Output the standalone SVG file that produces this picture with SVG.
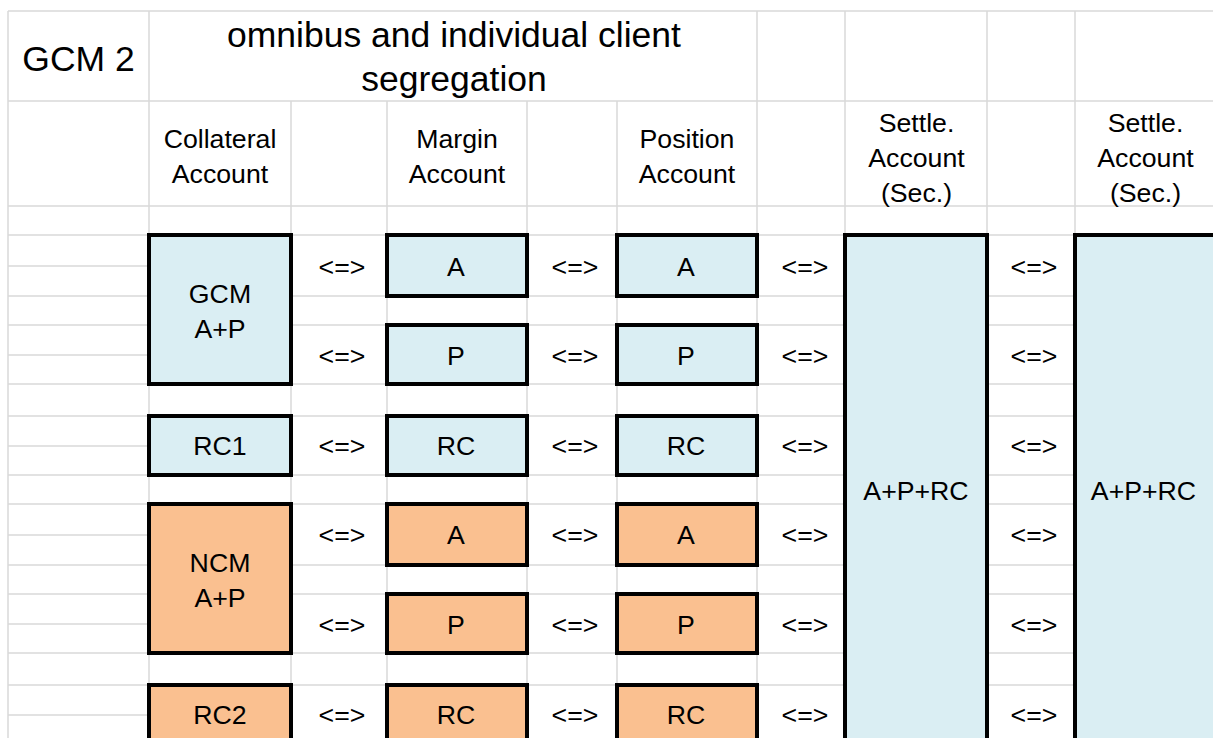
<svg xmlns="http://www.w3.org/2000/svg" width="1213" height="738" viewBox="0 0 1213 738">
<style>
.grid{fill:none;stroke:#d9d9d9;stroke-width:1.5}
.blue{fill:#daeef3;stroke:#000;stroke-width:4}
.orange{fill:#fac090;stroke:#000;stroke-width:4}
text{font-family:"Liberation Sans",Arial,sans-serif;fill:#000;text-anchor:middle}
.t{font-size:26.7px}
.h{font-size:35.5px}
</style>
<rect x="0" y="0" width="1213" height="738" fill="#fff"/>
<g id="grid">
<path class="grid" d="M8 11V738 M149 11V738 M291 101V738 M387 101V738 M527 101V738 M617 101V738 M757 11V738 M845 11V738 M987 11V738 M1075 11V738
M8 11H1213 M8 101H1213 M8 206H1213 M8 235H1213
M8 266H149 M8 355H149 M8 446H149 M8 535H149 M8 624H149 M8 715H149
M8 296H1213 M8 325H1213 M8 384H1213 M8 416H1213 M8 475H1213 M8 504H1213 M8 565H1213 M8 594H1213 M8 653H1213 M8 685H1213"/>
</g>
<g id="headers">
<text class="h" x="78.5" y="71">GCM 2</text>
<text class="h" x="454" y="47">omnibus and individual client</text>
<text class="h" x="454" y="91">segregation</text>
<text class="t" x="220" y="148">Collateral</text>
<text class="t" x="220" y="183">Account</text>
<text class="t" x="457" y="148">Margin</text>
<text class="t" x="457" y="183">Account</text>
<text class="t" x="687" y="148">Position</text>
<text class="t" x="687" y="183">Account</text>
<text class="t" x="916.5" y="132">Settle.</text>
<text class="t" x="916.5" y="167">Account</text>
<text class="t" x="916.5" y="202">(Sec.)</text>
<text class="t" x="1145.5" y="132">Settle.</text>
<text class="t" x="1145.5" y="167">Account</text>
<text class="t" x="1145.5" y="202">(Sec.)</text>
</g>
<g id="gcm-ap"><rect class="blue" x="149" y="235" width="142" height="149"/><text class="t" x="220" y="303">GCM</text><text class="t" x="220" y="338">A+P</text></g>
<g id="rc1"><rect class="blue" x="149" y="416" width="142" height="59"/><text class="t" x="220" y="455">RC1</text></g>
<g id="margin-a1"><rect class="blue" x="387" y="235" width="140" height="61"/><text class="t" x="456" y="276">A</text></g>
<g id="margin-p1"><rect class="blue" x="387" y="325" width="140" height="59"/><text class="t" x="456" y="365">P</text></g>
<g id="margin-rc1"><rect class="blue" x="387" y="416" width="140" height="59"/><text class="t" x="456" y="455">RC</text></g>
<g id="position-a1"><rect class="blue" x="617" y="235" width="140" height="61"/><text class="t" x="686" y="276">A</text></g>
<g id="position-p1"><rect class="blue" x="617" y="325" width="140" height="59"/><text class="t" x="686" y="365">P</text></g>
<g id="position-rc1"><rect class="blue" x="617" y="416" width="140" height="59"/><text class="t" x="686" y="455">RC</text></g>
<g id="settle1"><rect class="blue" x="845" y="235" width="142" height="530"/><text class="t" x="916" y="500">A+P+RC</text></g>
<g id="settle2"><rect class="blue" x="1075" y="235" width="160" height="530"/><text class="t" x="1143.5" y="500">A+P+RC</text></g>
<g id="ncm-ap"><rect class="orange" x="149" y="504" width="142" height="149"/><text class="t" x="220" y="572">NCM</text><text class="t" x="220" y="607">A+P</text></g>
<g id="rc2"><rect class="orange" x="149" y="685" width="142" height="80"/><text class="t" x="220" y="724">RC2</text></g>
<g id="margin-a2"><rect class="orange" x="387" y="504" width="140" height="61"/><text class="t" x="456" y="544">A</text></g>
<g id="margin-p2"><rect class="orange" x="387" y="594" width="140" height="59"/><text class="t" x="456" y="634">P</text></g>
<g id="margin-rc2"><rect class="orange" x="387" y="685" width="140" height="80"/><text class="t" x="456" y="724">RC</text></g>
<g id="position-a2"><rect class="orange" x="617" y="504" width="140" height="61"/><text class="t" x="686" y="544">A</text></g>
<g id="position-p2"><rect class="orange" x="617" y="594" width="140" height="59"/><text class="t" x="686" y="634">P</text></g>
<g id="position-rc2"><rect class="orange" x="617" y="685" width="140" height="80"/><text class="t" x="686" y="724">RC</text></g>
<g id="connectors">
<text class="t" x="342" y="276">&lt;=&gt;</text><text class="t" x="575" y="276">&lt;=&gt;</text><text class="t" x="805" y="276">&lt;=&gt;</text><text class="t" x="1034" y="276">&lt;=&gt;</text>
<text class="t" x="342" y="365">&lt;=&gt;</text><text class="t" x="575" y="365">&lt;=&gt;</text><text class="t" x="805" y="365">&lt;=&gt;</text><text class="t" x="1034" y="365">&lt;=&gt;</text>
<text class="t" x="342" y="455">&lt;=&gt;</text><text class="t" x="575" y="455">&lt;=&gt;</text><text class="t" x="805" y="455">&lt;=&gt;</text><text class="t" x="1034" y="455">&lt;=&gt;</text>
<text class="t" x="342" y="544">&lt;=&gt;</text><text class="t" x="575" y="544">&lt;=&gt;</text><text class="t" x="805" y="544">&lt;=&gt;</text><text class="t" x="1034" y="544">&lt;=&gt;</text>
<text class="t" x="342" y="634">&lt;=&gt;</text><text class="t" x="575" y="634">&lt;=&gt;</text><text class="t" x="805" y="634">&lt;=&gt;</text><text class="t" x="1034" y="634">&lt;=&gt;</text>
<text class="t" x="342" y="724">&lt;=&gt;</text><text class="t" x="575" y="724">&lt;=&gt;</text><text class="t" x="805" y="724">&lt;=&gt;</text><text class="t" x="1034" y="724">&lt;=&gt;</text>
</g>
</svg>
